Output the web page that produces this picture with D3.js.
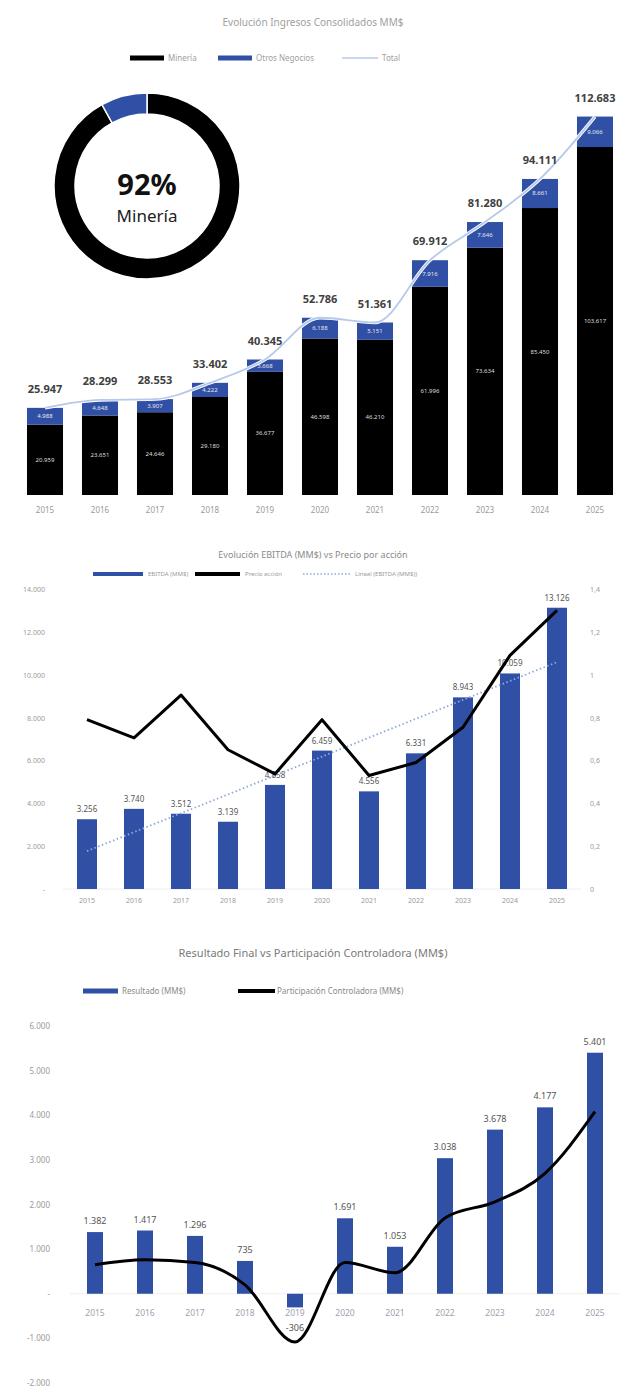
<!DOCTYPE html>
<html lang="es">
<head>
    <meta charset="utf-8"/>
    <title>Ingresos, EBITDA y Resultado</title>
    <script src="https://d3js.org/d3.v7.min.js"></script>
    <style>
        body { margin: 0; background: #fff; }
        svg { display: block; font-family: "Noto Sans", "Open Sans", sans-serif; }
    </style>
</head>
<body>
<div id="viz"></div>

<script type="text/javascript">

    // datos
    const years = ["2015", "2016", "2017", "2018", "2019", "2020", "2021", "2022", "2023", "2024", "2025"];

    // gráfico 1: ingresos (MM$)
    const mineria = [20959, 23651, 24646, 29180, 36677, 46598, 46210, 61996, 73634, 85450, 103617];
    const otros   = [4988, 4648, 3907, 4222, 3668, 6188, 5151, 7916, 7646, 8661, 9066];

    // gráfico 2: EBITDA (MM$) y precio por acción
    const ebitda = [3256, 3740, 3512, 3139, 4858, 6459, 4556, 6331, 8943, 10059, 13126];
    const precio = [0.79, 0.705, 0.905, 0.65, 0.537, 0.79, 0.53, 0.59, 0.755, 1.09, 1.30];
    const ebitdaTicks = [0, 2000, 4000, 6000, 8000, 10000, 12000, 14000];
    const precioTicks = [0, 0.2, 0.4, 0.6, 0.8, 1, 1.2, 1.4];

    // gráfico 3: resultado y participación controladora (MM$)
    const resultado = [1382, 1417, 1296, 735, -306, 1691, 1053, 3038, 3678, 4177, 5401];
    const controladora = [650, 760, 700, 200, -1080, 700, 470, 1700, 2060, 2700, 4080];
    const resultadoTicks = [-2000, -1000, 0, 1000, 2000, 3000, 4000, 5000, 6000];

    const azul = "#3050a6", negro = "#000", gris = "#9a9a9a", texto = "#555";

    const es = d3.formatLocale({decimal: ",", thousands: ".", grouping: [3], currency: ["$", ""], minus: "-"});
    const fmt = es.format(",d");
    const fmtDec = es.format(".1~f");

    const svg = d3.select("#viz").append("svg")
        .attr("width", 626).attr("height", 1389);

    // ---------- Gráfico 1 ----------
    const totales = mineria.map((m, i) => m + otros[i]);

    svg.append("text").attr("x", 313).attr("y", 26).attr("text-anchor", "middle")
        .attr("font-size", 10).attr("fill", "#a0a0a0")
        .text("Evolución Ingresos Consolidados MM$");

    // leyenda
    const leg1 = svg.append("g").attr("font-size", 8).attr("fill", "#a0a0a0");
    leg1.append("rect").attr("x", 130).attr("y", 55.5).attr("width", 34).attr("height", 5).attr("fill", negro);
    leg1.append("text").attr("x", 168).attr("y", 61).text("Minería");
    leg1.append("rect").attr("x", 218).attr("y", 55.5).attr("width", 34).attr("height", 5).attr("fill", azul);
    leg1.append("text").attr("x", 256).attr("y", 61).text("Otros Negocios");
    leg1.append("line").attr("x1", 342).attr("x2", 378).attr("y1", 58).attr("y2", 58)
        .attr("stroke", "#b7c9ea").attr("stroke-width", 1.5);
    leg1.append("text").attr("x", 382).attr("y", 61).text("Total");

    const x1 = d3.scaleBand().domain(years).range([17.5, 622.5]).paddingInner(0.345).paddingOuter(0.1725);
    const y1 = d3.scaleLinear().domain([0, 120000]).range([495, 92]);

    const g1 = svg.append("g");
    years.forEach((yr, i) => {
        g1.append("rect").attr("x", x1(yr)).attr("width", x1.bandwidth())
            .attr("y", y1(mineria[i])).attr("height", y1(0) - y1(mineria[i])).attr("fill", negro);
        g1.append("rect").attr("x", x1(yr)).attr("width", x1.bandwidth())
            .attr("y", y1(totales[i])).attr("height", y1(mineria[i]) - y1(totales[i])).attr("fill", azul);
        const cx = x1(yr) + x1.bandwidth() / 2;
        g1.append("text").attr("x", cx).attr("y", (y1(0) + y1(mineria[i])) / 2 + 2)
            .attr("text-anchor", "middle").attr("font-size", 6).attr("fill", "#ddd").text(fmt(mineria[i]));
        g1.append("text").attr("x", cx).attr("y", (y1(mineria[i]) + y1(totales[i])) / 2 + 2)
            .attr("text-anchor", "middle").attr("font-size", 6).attr("fill", "#e6e6e6").text(fmt(otros[i]));
    });

    // eje x
    g1.selectAll(".yr").data(years).join("text")
        .attr("x", d => x1(d) + x1.bandwidth() / 2).attr("y", 513)
        .attr("text-anchor", "middle").attr("font-size", 8).attr("fill", gris).text(d => d);

    // línea total
    const lineTotal = d3.line()
        .x((d, i) => x1(years[i]) + x1.bandwidth() / 2)
        .y(d => y1(d))
        .curve(d3.curveMonotoneX);
    g1.append("path").attr("d", lineTotal(totales)).attr("fill", "none")
        .attr("stroke", "#fff").attr("stroke-width", 3.5);
    g1.append("path").attr("d", lineTotal(totales)).attr("fill", "none")
        .attr("stroke", "#b7c9ea").attr("stroke-width", 1.8);

    g1.selectAll(".tot").data(totales).join("text")
        .attr("x", (d, i) => x1(years[i]) + x1.bandwidth() / 2).attr("y", d => y1(d) - 15)
        .attr("text-anchor", "middle").attr("font-size", 11).attr("font-weight", "bold")
        .attr("fill", "#404040").text(d => fmt(d));

    // dona
    const last = years.length - 1;
    const dona = [mineria[last], otros[last]];
    const pie = d3.pie().sort(null)(dona);
    const arc = d3.arc().innerRadius(72).outerRadius(93);
    const gd = svg.append("g").attr("transform", "translate(147,186)");
    gd.selectAll("path").data(pie).join("path")
        .attr("d", arc).attr("fill", (d, i) => i === 0 ? negro : azul)
        .attr("stroke", "#fff").attr("stroke-width", 1.5);
    gd.append("text").attr("y", 9).attr("text-anchor", "middle").attr("font-size", 29)
        .attr("font-weight", "bold").attr("fill", "#111")
        .text(Math.round(dona[0] / (dona[0] + dona[1]) * 100) + "%");
    gd.append("text").attr("y", 36).attr("text-anchor", "middle").attr("font-size", 17)
        .attr("fill", "#222").text("Minería");

    // ---------- Gráfico 2 ----------
    svg.append("text").attr("x", 313).attr("y", 558).attr("text-anchor", "middle")
        .attr("font-size", 9).attr("fill", "#8a8a8a")
        .text("Evolución EBITDA (MM$) vs Precio por acción");

    const leg2 = svg.append("g").attr("font-size", 6).attr("fill", "#9a9a9a");
    leg2.append("rect").attr("x", 93).attr("y", 572).attr("width", 50).attr("height", 4).attr("fill", azul);
    leg2.append("text").attr("x", 148).attr("y", 576).text("EBITDA (MM$)");
    leg2.append("rect").attr("x", 195).attr("y", 572).attr("width", 45).attr("height", 4).attr("fill", negro);
    leg2.append("text").attr("x", 245).attr("y", 576).text("Precio acción");
    leg2.append("line").attr("x1", 303).attr("x2", 350).attr("y1", 574).attr("y2", 574)
        .attr("stroke", "#8fa8dc").attr("stroke-width", 1.5).attr("stroke-dasharray", "1.5,2");
    leg2.append("text").attr("x", 355).attr("y", 576).text("Lineal (EBITDA (MM$))");

    const x2 = d3.scaleBand().domain(years).range([63.5, 580.5]).paddingInner(0.574).paddingOuter(0.287);
    const y2 = d3.scaleLinear().domain([0, 14000]).range([889, 589]);
    const y2r = d3.scaleLinear().domain([0, 1.4]).range([889, 589]);

    const g2 = svg.append("g");
    g2.append("line").attr("x1", 63).attr("x2", 581).attr("y1", y2(0)).attr("y2", y2(0))
        .attr("stroke", "#eee");

    g2.selectAll(".tl").data(ebitdaTicks).join("text")
        .attr("x", 45).attr("y", d => y2(d) + 3).attr("text-anchor", "end")
        .attr("font-size", 7).attr("fill", gris).text(d => d === 0 ? "-" : fmt(d));
    g2.selectAll(".tr").data(precioTicks).join("text")
        .attr("x", 590).attr("y", d => y2r(d) + 3).attr("text-anchor", "start")
        .attr("font-size", 7).attr("fill", gris).text(d => fmtDec(d));

    g2.selectAll(".bar").data(ebitda).join("rect")
        .attr("x", (d, i) => x2(years[i])).attr("width", x2.bandwidth())
        .attr("y", d => y2(d)).attr("height", d => y2(0) - y2(d)).attr("fill", azul);

    g2.selectAll(".yr").data(years).join("text")
        .attr("x", d => x2(d) + x2.bandwidth() / 2).attr("y", 903)
        .attr("text-anchor", "middle").attr("font-size", 7).attr("fill", gris).text(d => d);

    g2.selectAll(".val").data(ebitda).join("text")
        .attr("x", (d, i) => x2(years[i]) + x2.bandwidth() / 2).attr("y", d => y2(d) - 7)
        .attr("text-anchor", "middle").attr("font-size", 8).attr("fill", texto).text(d => fmt(d));

    // tendencia lineal del EBITDA
    const n = ebitda.length;
    const mx = (n - 1) / 2, my = d3.mean(ebitda);
    const slope = d3.sum(ebitda, (d, i) => (i - mx) * (d - my)) / d3.sum(ebitda, (d, i) => (i - mx) * (i - mx));
    const trend = ebitda.map((d, i) => my + slope * (i - mx));
    const lineTrend = d3.line().x((d, i) => x2(years[i]) + x2.bandwidth() / 2).y(d => y2(d));
    g2.append("path").attr("d", lineTrend(trend)).attr("fill", "none")
        .attr("stroke", "#8fa8dc").attr("stroke-width", 1.8).attr("stroke-dasharray", "1.5,2.5");

    const linePrecio = d3.line().x((d, i) => x2(years[i]) + x2.bandwidth() / 2).y(d => y2r(d));
    g2.append("path").attr("d", linePrecio(precio)).attr("fill", "none")
        .attr("stroke", negro).attr("stroke-width", 3).attr("stroke-linejoin", "round");

    // ---------- Gráfico 3 ----------
    svg.append("text").attr("x", 313).attr("y", 957).attr("text-anchor", "middle")
        .attr("font-size", 11).attr("fill", "#7a7a7a")
        .text("Resultado Final vs Participación Controladora (MM$)");

    const leg3 = svg.append("g").attr("font-size", 8).attr("fill", "#8a8a8a");
    leg3.append("rect").attr("x", 83).attr("y", 988.5).attr("width", 35).attr("height", 5).attr("fill", azul);
    leg3.append("text").attr("x", 122).attr("y", 994).text("Resultado (MM$)");
    leg3.append("rect").attr("x", 238).attr("y", 989).attr("width", 37).attr("height", 4).attr("fill", negro);
    leg3.append("text").attr("x", 277).attr("y", 994).text("Participación Controladora (MM$)");

    const x3 = d3.scaleBand().domain(years).range([70, 620]).paddingInner(0.68).paddingOuter(0.34);
    const y3 = d3.scaleLinear().domain([-2000, 6000]).range([1383, 1026]);

    const g3 = svg.append("g");
    g3.append("line").attr("x1", 70).attr("x2", 620).attr("y1", y3(0)).attr("y2", y3(0))
        .attr("stroke", "#eee");

    g3.selectAll(".tl").data(resultadoTicks).join("text")
        .attr("x", 50).attr("y", d => y3(d) + 3).attr("text-anchor", "end")
        .attr("font-size", 8).attr("fill", gris).text(d => d === 0 ? "-" : fmt(d));

    g3.selectAll(".bar").data(resultado).join("rect")
        .attr("x", (d, i) => x3(years[i])).attr("width", x3.bandwidth())
        .attr("y", d => y3(Math.max(d, 0))).attr("height", d => Math.abs(y3(0) - y3(d))).attr("fill", azul);

    g3.selectAll(".yr").data(years).join("text")
        .attr("x", d => x3(d) + x3.bandwidth() / 2).attr("y", 1316)
        .attr("text-anchor", "middle").attr("font-size", 8.5).attr("fill", "#a0a0b0").text(d => d);

    g3.selectAll(".val").data(resultado).join("text")
        .attr("x", (d, i) => x3(years[i]) + x3.bandwidth() / 2)
        .attr("y", d => d >= 0 ? y3(d) - 8 : y3(d) + 24)
        .attr("text-anchor", "middle").attr("font-size", 9).attr("fill", texto).text(d => fmt(d));

    const lineCtrl = d3.line().x((d, i) => x3(years[i]) + x3.bandwidth() / 2).y(d => y3(d))
        .curve(d3.curveMonotoneX);
    g3.append("path").attr("d", lineCtrl(controladora)).attr("fill", "none")
        .attr("stroke", negro).attr("stroke-width", 3).attr("stroke-linejoin", "round");

</script>
</body>
</html>
